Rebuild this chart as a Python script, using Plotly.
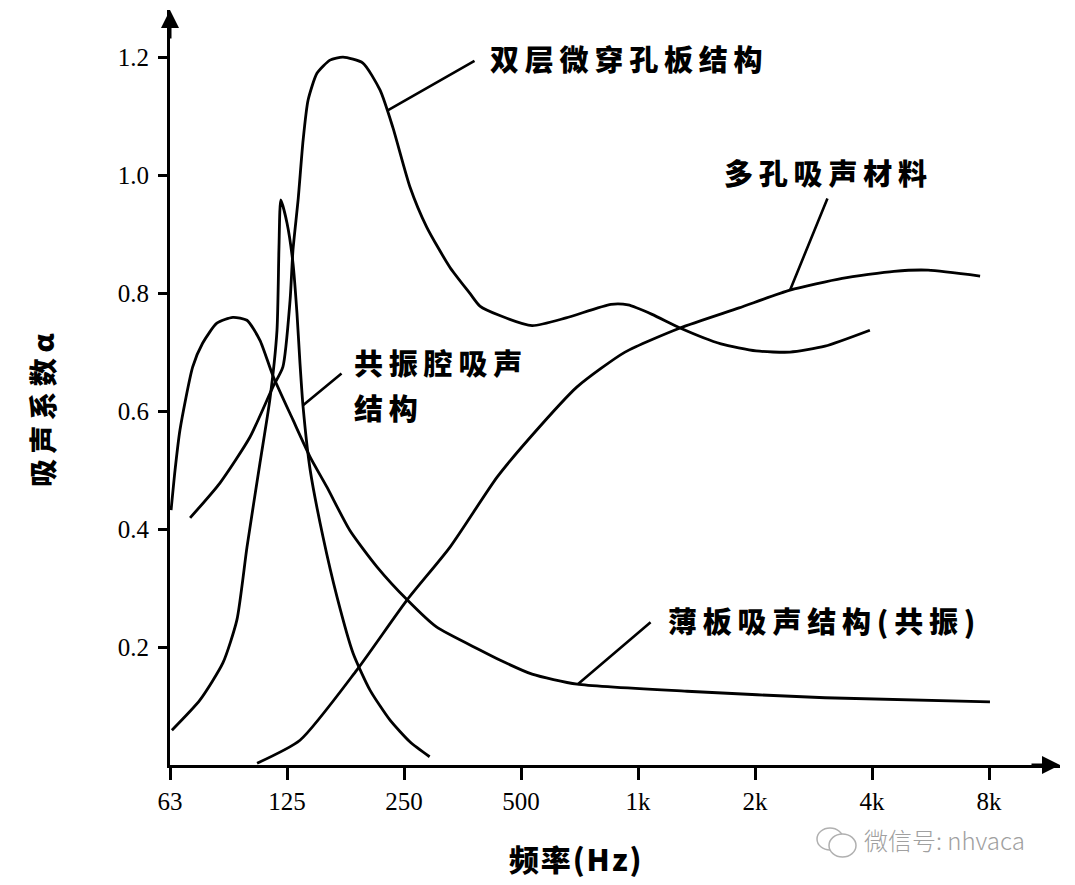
import math
import plotly.graph_objects as go

# ---- data (frequency in Hz, absorption coefficient) ----
micro_f = [70.4, 84.0, 100.4, 115, 122, 127.3, 129.5, 133.5, 137.5, 141.6, 149.4, 161.3,
           174.2, 196, 217, 234, 259, 286, 328, 369, 392, 441, 534, 653, 852, 943,
           1087, 1283, 1635, 2013, 2461, 3028, 3950]
micro_a = [0.419, 0.478, 0.556, 0.641, 0.675, 0.788, 0.873, 0.958, 1.059, 1.127, 1.173, 1.195,
           1.200, 1.190, 1.144, 1.081, 0.980, 0.912, 0.844, 0.800, 0.778, 0.762, 0.745, 0.758, 0.781, 0.780,
           0.764, 0.741, 0.714, 0.702, 0.700, 0.710, 0.737]

porous_f = [104.7, 135, 189, 254.7, 328, 434, 534, 697, 926, 1283, 1820, 2461, 3352, 4556, 5576, 7589]
porous_a = [0.003, 0.042, 0.161, 0.280, 0.369, 0.488, 0.559, 0.641, 0.700, 0.741, 0.775, 0.805,
            0.825, 0.837, 0.839, 0.829]

reso_f = [63.2, 74.6, 85.5, 92.9, 98.6, 106.5, 112.9, 117.8, 119.2, 120.5, 125, 129.5, 132.6, 135,
          137.5, 143.4, 154.8, 168.1, 184.8, 204.4, 230.2, 259.2, 291]
reso_a = [0.059, 0.110, 0.173, 0.246, 0.369, 0.512, 0.619, 0.737, 0.878, 0.958, 0.919, 0.851, 0.766,
          0.681, 0.607, 0.500, 0.386, 0.285, 0.190, 0.127, 0.076, 0.039, 0.014]

plate_f = [62.9, 64.4, 66.3, 71.5, 75.8, 82.5, 90.7, 98.6, 106.5, 115.0, 129.5, 143.4, 158.4, 181.3,
           213, 254.7, 303, 392, 441, 534, 697, 1337, 3028, 8046]
plate_a = [0.432, 0.500, 0.568, 0.675, 0.715, 0.749, 0.759, 0.754, 0.720, 0.660, 0.585, 0.522, 0.471,
           0.398, 0.336, 0.280, 0.234, 0.195, 0.178, 0.154, 0.137, 0.125, 0.114, 0.107]

tick_vals = [62.5, 125, 250, 500, 1000, 2000, 4000, 8000]
tick_text = ["63", "125", "250", "500", "1k", "2k", "4k", "8k"]
y_ticks = [0.2, 0.4, 0.6, 0.8, 1.0, 1.2]
y_tick_text = ["0.2", "0.4", "0.6", "0.8", "1.0", "1.2"]

# labels: (text, text x [Hz], text y, leader tail x, tail y, leader head x, head y)
labels = [
    ("双层微穿孔板结构", 411.5, 1.198, 383, 1.195, 227, 1.11),
    ("多孔吸声材料", 1645, 1.005, 3083, 0.963, 2461, 0.805),
    ("共振腔吸声", 183.6, 0.683, 174.2, 0.666, 137.5, 0.61),
    ("薄板吸声结构(共振)", 1180, 0.246, 1087, 0.244, 700, 0.137),
]
extra_line = ("结构", 183.6, 0.607)

X_TITLE = "频率(Hz)"
Y_TITLE = "吸声系数α"
WATERMARK = "微信号: nhvaca"

CJK = "Noto Sans CJK SC"
SERIF = "Liberation Serif"

def spaced(s, sep="\u2009"):
    return sep.join(list(s))

fig = go.Figure()
for fx, ay in [(micro_f, micro_a), (porous_f, porous_a), (reso_f, reso_a), (plate_f, plate_a)]:
    fig.add_trace(go.Scatter(x=fx, y=ay, mode="lines",
                             line=dict(color="black", width=2.8, shape="spline", smoothing=0.6),
                             showlegend=False, hoverinfo="skip"))

L = math.log10
ann = []
for text, tx, ty, lx, ly, hx, hy in labels:
    ann.append(dict(x=L(tx), y=ty, xref="x", yref="y", text=spaced(text), showarrow=False,
                    xanchor="left", yanchor="middle",
                    font=dict(family=CJK, size=29, color="black", weight=900)))
    ann.append(dict(x=L(hx), y=hy, ax=L(lx), ay=ly, xref="x", yref="y", axref="x", ayref="y",
                    text="", showarrow=True, arrowhead=0, arrowwidth=2.6, arrowcolor="black",
                    standoff=0, startstandoff=0))
ann.append(dict(x=L(extra_line[1]), y=extra_line[2], xref="x", yref="y", text=spaced(extra_line[0]),
                showarrow=False, xanchor="left", yanchor="middle",
                font=dict(family=CJK, size=29, color="black", weight=900)))

# axis arrows
ann.append(dict(x=1, y=0, xref="paper", yref="paper", ax=-30, ay=0, text="", showarrow=True,
                arrowhead=2, arrowsize=1.2, arrowwidth=3, arrowcolor="black", standoff=0))
ann.append(dict(x=0, y=1, xref="paper", yref="paper", ax=0, ay=30, text="", showarrow=True,
                arrowhead=2, arrowsize=1.2, arrowwidth=3, arrowcolor="black", standoff=0))

# axis titles (paper coords derived from page pixels: plot area 170..1060 x 10..765)
def px(x):
    return (x - 170) / 890

def py(y):
    return (765 - y) / 755

ann.append(dict(x=px(575), y=py(858), xref="paper", yref="paper", text=spaced(X_TITLE, "\u200a"),
                showarrow=False, xanchor="center", yanchor="middle",
                font=dict(family=CJK, size=30, color="black", weight=900)))
ann.append(dict(x=px(42), y=py(410), xref="paper", yref="paper", text=spaced(Y_TITLE, "\u2009"),
                showarrow=False, xanchor="center", yanchor="middle", textangle=-90,
                font=dict(family=CJK, size=28, color="black", weight=900)))
ann.append(dict(x=px(862), y=py(839), xref="paper", yref="paper", text=WATERMARK,
                showarrow=False, xanchor="left", yanchor="middle",
                font=dict(family=CJK, size=24, color="#a0a0a0", weight=300)))

# small chat-bubble icon next to the watermark
shapes = [
    dict(type="circle", xref="paper", yref="paper", x0=px(817), x1=px(843), y0=py(850), y1=py(828),
         line=dict(color="#b0b0b0", width=1.5)),
    dict(type="circle", xref="paper", yref="paper", x0=px(829), x1=px(856), y0=py(857), y1=py(834),
         line=dict(color="#b0b0b0", width=1.5), fillcolor="white"),
]

fig.update_layout(
    width=1075, height=885,
    margin=dict(l=162, r=23, t=2, b=128),
    paper_bgcolor="white", plot_bgcolor="white",
    annotations=ann, shapes=shapes,
    xaxis=dict(type="log", range=[L(62.5), L(62.5) + 890 / 117 * L(2)],
               tickvals=tick_vals, ticktext=tick_text, ticks="outside", ticklen=12, tickwidth=2.5,
               tickcolor="black", showline=True, linecolor="black", linewidth=3,
               showgrid=False, zeroline=False, ticklabelstandoff=0,
               tickfont=dict(family=SERIF, size=25, color="black")),
    yaxis=dict(range=[0, 1.28], tickvals=y_ticks, ticktext=y_tick_text, ticks="outside",
               ticklen=9, tickwidth=2.5, tickcolor="black", showline=True, linecolor="black",
               linewidth=3, showgrid=False, zeroline=False, ticklabelstandoff=4,
               tickfont=dict(family=SERIF, size=25, color="black")),
)

fig.write_html("out.html")
